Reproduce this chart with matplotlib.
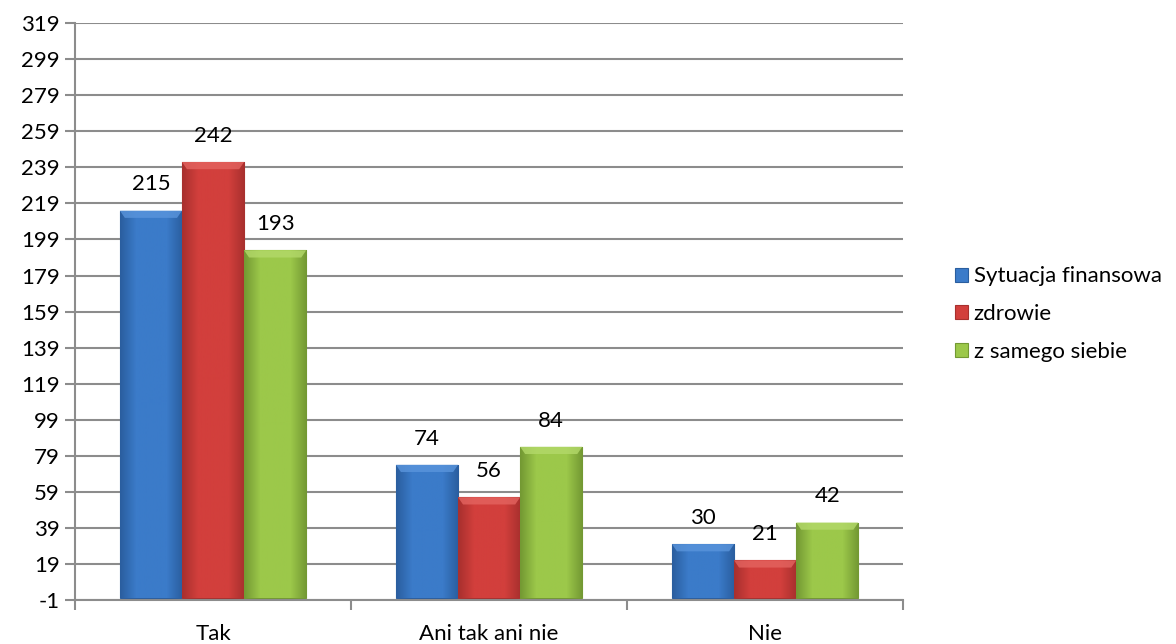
import numpy as np
import matplotlib.pyplot as plt
from matplotlib.colors import LinearSegmentedColormap

# Data
categories = ['Tak', 'Ani tak ani nie', 'Nie']
series_names = ['Sytuacja finansowa', 'zdrowie', 'z samego siebie']
finanse = [215, 74, 30]
zdrowie = [242, 56, 21]
siebie = [193, 84, 42]
y_ticks = list(range(-1, 320, 20))

plt.rcParams['font.family'] = ['Lato', 'DejaVu Sans']

colors = ['#3b7bc9', '#d23f3c', '#9cc84a']
dark = ['#2a5e9f', '#a8302e', '#739933']
light = ['#5a95dc', '#e46460', '#b3d96a']

fig = plt.figure(figsize=(11.76, 6.44), dpi=100)
ax = fig.add_axes([0.0638, 0.0683, 0.7042, 0.8957])

x = np.arange(len(categories))
width = 0.225
values = [finanse, zdrowie, siebie]

for i, vals in enumerate(values):
    bars = ax.bar(x + (i - 1) * width, vals, width, color=colors[i],
                  edgecolor=dark[i], linewidth=0.8, zorder=3, label=series_names[i])
    cmap = LinearSegmentedColormap.from_list('g%d' % i, [dark[i], colors[i], colors[i], colors[i], dark[i]])
    grad = np.linspace(0, 1, 64).reshape(1, -1)
    for b, v in zip(bars, vals):
        im = ax.imshow(grad, extent=[b.get_x(), b.get_x() + b.get_width(), 0, v],
                       aspect='auto', cmap=cmap, zorder=3.5, origin='lower')
        im.set_clip_path(b)
        # lighter top bevel
        bx, bw = b.get_x(), b.get_width()
        ax.fill([bx, bx + bw, bx + bw * 0.92, bx + bw * 0.08], [v, v, v - 4, v - 4],
                color=light[i], alpha=0.8, zorder=3.6, linewidth=0)
        ax.text(bx + bw / 2, v + 9, str(v), ha='center', va='bottom',
                fontsize=16, color='black', zorder=5)

ax.set_xlim(-0.5, len(categories) - 0.5)
ax.set_ylim(-1, 319)
ax.set_yticks(y_ticks)
ax.set_yticklabels([str(t) for t in y_ticks], fontsize=16)
ax.set_xticks(np.arange(-0.5, len(categories), 1), minor=False)
ax.set_xticklabels([])
ax.set_xticks(x, minor=True)
ax.set_xticklabels(categories, minor=True, fontsize=16)
ax.tick_params(axis='x', which='minor', length=0, pad=17)
ax.tick_params(axis='x', which='major', length=7, color='#8c8c8c', width=1.5, direction='out')
ax.tick_params(axis='y', length=7, color='#8c8c8c', width=1.5, direction='out', pad=4)

ax.grid(axis='y', color='#8c8c8c', linewidth=1.5, zorder=0)
for s in ['top', 'right']:
    ax.spines[s].set_visible(False)
for s in ['left', 'bottom']:
    ax.spines[s].set_color('#8c8c8c')
    ax.spines[s].set_linewidth(1.5)
ax.spines['bottom'].set_zorder(4)

leg = ax.legend(loc='center left', bbox_to_anchor=(0.795, 0.512), bbox_transform=fig.transFigure,
                frameon=False, fontsize=16, handlelength=0.6, handleheight=0.6,
                handletextpad=0.25, labelspacing=0.8)

fig.savefig('out.png', dpi=100)
